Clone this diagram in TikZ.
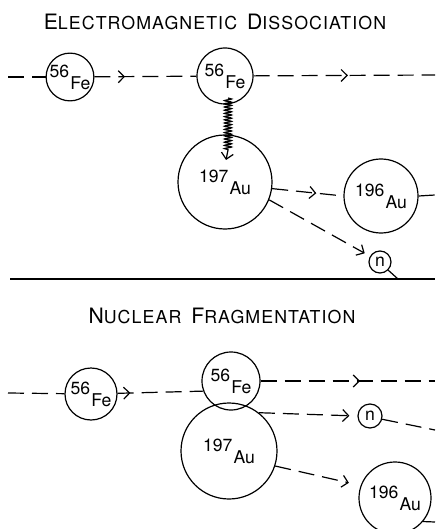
\documentclass[tikz,border=0pt]{standalone}
\usepackage{fontspec}
\setmainfont{TeX Gyre Heros}
\usetikzlibrary{arrows.meta,decorations.markings,decorations.pathmorphing}
\newcommand\isot[2]{\raisebox{0.75ex}{#1}\kern0.6pt\raisebox{-0.55ex}{#2}}
\newcommand\bigc[1]{{\fontsize{10.6}{11}\selectfont #1}}
\newcommand\smc[1]{{\fontsize{8.9}{10}\selectfont #1}}
\begin{document}
\begin{tikzpicture}[x=0.5pt,y=-0.5pt,
  nuc/.style={circle,draw,line width=0.6pt,inner sep=0pt,font=\fontsize{8.8}{9}\selectfont},
  conn/.style={line width=0.6pt,dash pattern=on 8pt off 4pt},
  midarrow/.style={postaction={decorate},decoration={markings,mark=at position #1 with {\arrow{Straight Barb[length=3pt,width=6pt,line width=0.6pt]}}}},
  endarrow/.style={-{Straight Barb[length=3pt,width=6pt,line width=0.6pt]}},
  titletext/.style={font=\addfontfeature{LetterSpace=6}},
  ]
\useasboundingbox (0,0) rectangle (435,529);
% ---------- top panel ----------
\node[titletext] (t1) at (215,22) {\bigc{E}\smc{LECTROMAGNETIC}\hspace{5pt}\bigc{D}\smc{ISSOCIATION}};
\node[nuc,minimum size=23pt] (fea) at (70,77) {\isot{56}{Fe}};
\node[nuc,minimum size=28pt] (feb) at (225,76) {\isot{56}{Fe}};
\node[nuc,minimum size=47pt] (aua) at (225,182) {\isot{197}{Au}};
\node[nuc,minimum size=37pt] (aub) at (381,196) {\isot{196}{Au}};
\node[nuc,minimum size=11pt] (na) at (380,262) {n};
\coordinate (s1) at (8,77);
\coordinate (e1) at (435,75);
\coordinate (e2) at (435,195);
\coordinate (e3) at (398,279);
\coordinate (w0) at (228,98);
\coordinate (w1) at (228,150);
\coordinate (w2) at (226,160);
\draw[conn] (s1) -- (fea);
\draw[conn,midarrow=0.3] (fea) -- (feb);
\draw[conn,midarrow=0.52] (feb) -- (e1);
\draw[line width=0.6pt,decorate,decoration={snake,segment length=1.6pt,amplitude=1.8pt}] (w0) -- (w1);
\draw[line width=0.6pt,endarrow] (w1) -- (w2);
\draw[conn,midarrow=0.62] (aua.-8) -- (aub.west);
\draw[conn] (aub.east) -- (e2);
\draw[conn,endarrow,shorten >=3pt] (aua.-22) -- (na.150);
\draw[conn] (na.-45) -- (e3);
\coordinate (l1) at (10,279);
\coordinate (l2) at (435,279);
\draw[line width=0.8pt] (l1) -- (l2);
% ---------- bottom panel ----------
\node[titletext] (t2) at (222,316) {\bigc{N}\smc{UCLEAR}\hspace{5pt}\bigc{F}\smc{RAGMENTATION}};
\node[nuc,minimum size=26pt] (fec) at (91,394) {\isot{56}{Fe}};
\node[nuc,minimum size=29pt] (fed) at (231,381) {\isot{56}{Fe}};
\node[nuc,minimum size=48pt] (auc) at (229,451) {\isot{197}{Au}};
\node[nuc,minimum size=12pt] (nb) at (370,416) {n};
\node[nuc,minimum size=36pt] (aud) at (395,498) {\isot{196}{Au}};
\coordinate (s2) at (8,393);
\coordinate (e4) at (435,381);
\coordinate (e5) at (435,430);
\coordinate (e6) at (435,522);
\draw[conn] (s2) -- (fec);
\draw[conn,midarrow=0.15] (fec) -- (fed.200);
\draw[conn,midarrow=0.57] (fed) -- (e4);
\draw[conn,endarrow,shorten >=4pt] (auc.52) -- (nb.west);
\draw[conn] (nb.-15) -- (e5);
\draw[conn,endarrow,shorten >=6pt] (auc.-18) -- (aud.160);
\draw[conn] (aud.-40) -- (e6);
\end{tikzpicture}
\end{document}
